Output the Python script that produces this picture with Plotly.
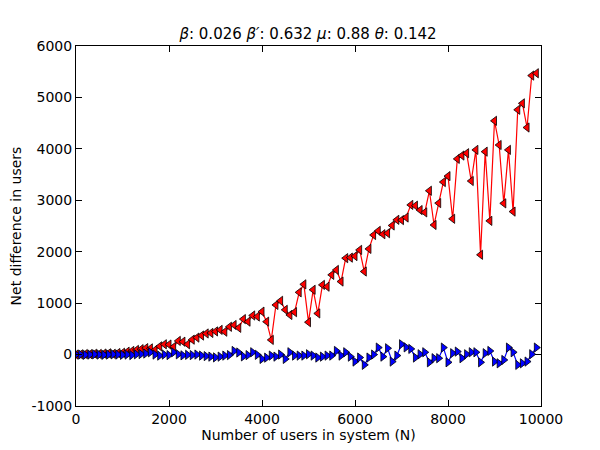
import plotly.graph_objects as go

# x = number of users in system, one point every 100
n_users = list(range(0, 10000, 100))

# red series (left triangles)
red_vals = [0, 5, 10, 8, 15, 12, 20, 25, 15, 30,
            35, 55, 70, 90, 105, 125, 120, 90, 160, 200,
            195, 150, 265, 250, 200, 290, 330, 370, 410, 420,
            450, 480, 445, 540, 575, 520, 690, 640, 760, 740,
            835, 640, 285, 965, 1045, 870, 770, 825, 1210, 1365,
            630, 1260, 800, 1355, 1320, 1550, 1645, 1420, 1875, 1885,
            1915, 2035, 1615, 2055, 2325, 2405, 2340, 2360, 2510, 2620,
            2615, 2665, 2910, 2895, 2810, 2765, 3185, 2520, 2945, 3355,
            3470, 2640, 3805, 3870, 3915, 3375, 3980, 1940, 3945, 2600,
            4545, 4075, 2940, 3980, 2780, 4760, 4885, 4415, 5425, 5470]

# blue series (right triangles)
blue_vals = [0, 0, -5, 0, 5, 0, -5, 0, 5, 0,
             -5, 0, -10, 5, 10, 20, 45, 0, -20, 0,
             -10, 45, 5, -15, -5, -10, 0, -20, -30, -40,
             -55, -40, -20, -10, 70, 40, -35, -10, 45, -5,
             -85, -60, -20, -40, 0, -85, 45, -20, -20, -20,
             6, -20, -58, -40, -20, -20, 70, -20, 45, -40,
             -136, -58, -200, -58, 0, 136, -40, 123, -136, -20,
             200, 140, 110, -58, 6, 45, -150, -71, -71, 136,
             -150, 26, 58, -71, 6, 45, 45, -150, 26, 70,
             -136, -170, -105, 136, 45, -200, -170, -136, 6, 136]

x_ticks = [0, 2000, 4000, 6000, 8000, 10000]
y_ticks = list(range(-1000, 6001, 1000))

title_text = "<i>β</i>: 0.026 <i>β′</i>: 0.632 <i>μ</i>: 0.88 <i>θ</i>: 0.142"

fig = go.Figure()
fig.add_trace(go.Scatter(
    x=n_users, y=red_vals, mode="lines+markers",
    line=dict(color="red", width=1.2),
    marker=dict(symbol="triangle-left", size=8, color="red",
                line=dict(color="black", width=0.8)),
    showlegend=False))
fig.add_trace(go.Scatter(
    x=n_users, y=blue_vals, mode="lines+markers",
    line=dict(color="blue", width=1.2),
    marker=dict(symbol="triangle-right", size=8, color="blue",
                line=dict(color="black", width=0.8)),
    showlegend=False))

axis_style = dict(showgrid=False, zeroline=False, showline=True, linecolor="black",
                  linewidth=1, mirror="ticks", ticks="inside", ticklen=6,
                  tickcolor="black", tickfont=dict(size=14, color="black"),
                  automargin=False)

# the page body adds ~7px offset, so margins are trimmed to compensate
fig.update_layout(
    width=600, height=450,
    margin=dict(l=68, r=67, t=38, b=52),
    paper_bgcolor="white", plot_bgcolor="white",
    font=dict(family="DejaVu Sans", color="black"),
    title=dict(text=title_text, x=0.50, xanchor="center", y=0.943, yanchor="middle",
               font=dict(size=15, color="black")),
    xaxis=dict(range=[0, 10000], tickvals=x_ticks, ticktext=[str(v) for v in x_ticks],
               title=dict(text="Number of users in system (N)", font=dict(size=14), standoff=4),
               **axis_style),
    yaxis=dict(range=[-1000, 6000], tickvals=y_ticks, ticktext=[str(v) for v in y_ticks],
               title=dict(text="Net difference in users", font=dict(size=14), standoff=6),
               **axis_style),
)

fig.write_html("out.html")
